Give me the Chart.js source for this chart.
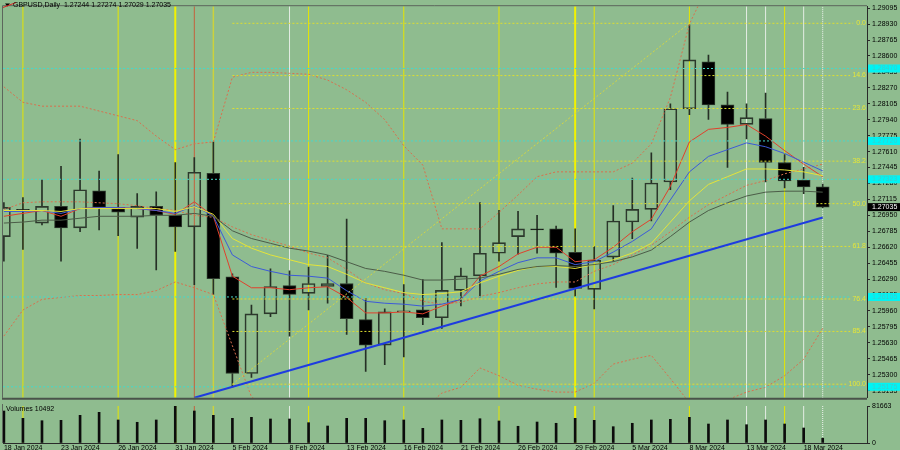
<!DOCTYPE html>
<html>
<head>
<meta charset="utf-8">
<title>GBPUSD Daily</title>
<script src="https://cdn.jsdelivr.net/npm/chart.js"></script>
<style>
  html, body { margin: 0; padding: 0; background: #8fbc8f; }
  #wrap { position: relative; width: 900px; height: 450px; overflow: hidden; background: #8fbc8f; }
  #priceChart { position: absolute; left: 0; top: 0; }
  #volChart { position: absolute; left: 0; top: 398px; }
</style>
</head>
<body>
<div id="wrap">
  <canvas id="priceChart" width="900" height="404"></canvas>
  <canvas id="volChart" width="900" height="52"></canvas>
</div>
<script>
// GBPUSD daily candles, 18 Jan - 19 Mar 2024, MT4 style

const symbolName = 'GBPUSD,Daily';

const barDates = [
  '18 Jan 2024', '19 Jan 2024', '22 Jan 2024', '23 Jan 2024', '24 Jan 2024', '25 Jan 2024', '26 Jan 2024',
  '29 Jan 2024', '30 Jan 2024', '31 Jan 2024', '1 Feb 2024', '2 Feb 2024', '5 Feb 2024', '6 Feb 2024',
  '7 Feb 2024', '8 Feb 2024', '9 Feb 2024', '12 Feb 2024', '13 Feb 2024', '14 Feb 2024', '15 Feb 2024',
  '16 Feb 2024', '19 Feb 2024', '20 Feb 2024', '21 Feb 2024', '22 Feb 2024', '23 Feb 2024', '26 Feb 2024',
  '27 Feb 2024', '28 Feb 2024', '29 Feb 2024', '1 Mar 2024', '4 Mar 2024', '5 Mar 2024', '6 Mar 2024',
  '7 Mar 2024', '8 Mar 2024', '11 Mar 2024', '12 Mar 2024', '13 Mar 2024', '14 Mar 2024', '15 Mar 2024',
  '18 Mar 2024', '19 Mar 2024'
];

const open = [1.26729, 1.27012, 1.26870, 1.27043, 1.26820, 1.27204, 1.27033, 1.26931, 1.27043, 1.26952, 1.26830,
  1.27386, 1.26314, 1.25313, 1.25930, 1.26223, 1.26142, 1.26213, 1.26244, 1.25870, 1.25607, 1.25950, 1.25971,
  1.25890, 1.26173, 1.26324, 1.26557, 1.26729, 1.26810, 1.26810, 1.26567, 1.26183, 1.26517, 1.26881, 1.27012,
  1.27295, 1.28053, 1.28539, 1.28094, 1.27892, 1.27952, 1.27497, 1.27316, 1.27244];
const high = [1.27083, 1.27134, 1.27316, 1.27457, 1.27740, 1.27407, 1.27578, 1.27174, 1.27194, 1.27497, 1.27548,
  1.27710, 1.26345, 1.26021, 1.26395, 1.26375, 1.26415, 1.26537, 1.26911, 1.26092, 1.25981, 1.26233, 1.26284,
  1.26668, 1.26405, 1.27083, 1.27002, 1.26992, 1.26951, 1.26840, 1.26810, 1.26628, 1.27052, 1.27335, 1.27598,
  1.28104, 1.28923, 1.28609, 1.28225, 1.28104, 1.28215, 1.27578, 1.27447, 1.27274];
const low = [1.26476, 1.26597, 1.26851, 1.26476, 1.26780, 1.26800, 1.26739, 1.26608, 1.26385, 1.26577, 1.26233,
  1.26132, 1.25172, 1.25273, 1.25900, 1.25698, 1.25971, 1.26041, 1.25718, 1.25334, 1.25404, 1.25485, 1.25819,
  1.25779, 1.26011, 1.26102, 1.26476, 1.26547, 1.26557, 1.26203, 1.26112, 1.25981, 1.26476, 1.26709, 1.26891,
  1.27215, 1.27993, 1.27942, 1.27447, 1.27740, 1.27295, 1.27234, 1.27174, 1.27029];
const close = [1.27033, 1.27002, 1.27043, 1.26820, 1.27215, 1.27033, 1.26982, 1.27043, 1.26952, 1.26830, 1.27396,
  1.26294, 1.25313, 1.25930, 1.26213, 1.26132, 1.26244, 1.26244, 1.25880, 1.25607, 1.25950, 1.25961, 1.25890,
  1.26173, 1.26324, 1.26557, 1.26668, 1.26810, 1.26800, 1.26557, 1.26193, 1.26486, 1.26891, 1.27012, 1.27285,
  1.28053, 1.28559, 1.28094, 1.27892, 1.27962, 1.27497, 1.27305, 1.27244, 1.27035];

// moving averages as drawn on the chart
const maRed = [1.2694, 1.2697, 1.2700, 1.2694, 1.2702, 1.2703, 1.2703, 1.2702, 1.2700, 1.2696, 1.2709, 1.2694,
  1.2632, 1.2620, 1.2620, 1.2618, 1.2620, 1.2621, 1.2610, 1.2594, 1.2594, 1.2595, 1.2593, 1.2601, 1.2608, 1.2632,
  1.2642, 1.2655, 1.2662, 1.2662, 1.2647, 1.2649, 1.2662, 1.2678, 1.2691, 1.2725, 1.2771, 1.2784, 1.2786, 1.2789,
  1.2777, 1.2762, 1.2748, 1.2735];
const maBlue = [1.2699, 1.2699, 1.2700, 1.2697, 1.2702, 1.2703, 1.2703, 1.2702, 1.2700, 1.2697, 1.2705, 1.2694,
  1.2654, 1.2642, 1.2637, 1.2633, 1.2632, 1.2630, 1.2617, 1.2606, 1.2604, 1.2603, 1.2601, 1.2603, 1.2608, 1.2627,
  1.2637, 1.2646, 1.2651, 1.2651, 1.2644, 1.2647, 1.2657, 1.2668, 1.2681, 1.2711, 1.2740, 1.2756, 1.2763, 1.2770,
  1.2766, 1.2759, 1.2750, 1.2741];
const maYellow = [1.2700, 1.2700, 1.2700, 1.2699, 1.2702, 1.2702, 1.2702, 1.2702, 1.2702, 1.2699, 1.2704, 1.2696,
  1.2671, 1.2661, 1.2654, 1.2649, 1.2644, 1.2642, 1.2634, 1.2625, 1.2620, 1.2615, 1.2613, 1.2614, 1.2616, 1.2625,
  1.2632, 1.2638, 1.2642, 1.2642, 1.2640, 1.2644, 1.2649, 1.2656, 1.2666, 1.2688, 1.2710, 1.2727, 1.2735, 1.2743,
  1.2743, 1.2742, 1.2740, 1.2736];
const maGray = [1.2687, 1.2688, 1.2690, 1.2690, 1.2692, 1.2694, 1.2694, 1.2694, 1.2695, 1.2695, 1.2697, 1.2694,
  1.2679, 1.2671, 1.2666, 1.2661, 1.2658, 1.2654, 1.2647, 1.2640, 1.2637, 1.2633, 1.2628, 1.2628, 1.2629, 1.2630,
  1.2634, 1.2639, 1.2642, 1.2643, 1.2642, 1.2644, 1.2647, 1.2652, 1.2659, 1.2673, 1.2688, 1.2700, 1.2708, 1.2715,
  1.2719, 1.2720, 1.2720, 1.2719];

// bands (dotted)
const bbUpper = [1.2828, 1.2812, 1.2808, 1.2808, 1.2808, 1.2803, 1.2798, 1.2793, 1.2777, 1.2763, 1.2769, 1.2771,
  1.2838, 1.2843, 1.2843, 1.2842, 1.2841, 1.2835, 1.2825, 1.2812, 1.2794, 1.2767, 1.2747, 1.2681, 1.2681, 1.2681,
  1.2698, 1.2716, 1.2735, 1.2740, 1.2740, 1.2740, 1.2740, 1.2749, 1.2769, 1.2817, 1.2893, 1.2934, 1.2939, 1.2944,
  1.2949, 1.2948, 1.2940, 1.2919];
const bbMiddle = [1.2701, 1.2708, 1.2709, 1.2709, 1.2709, 1.2708, 1.2707, 1.2705, 1.2702, 1.2700, 1.2695, 1.2693,
  1.2683, 1.2675, 1.2669, 1.2663, 1.2656, 1.2651, 1.2639, 1.2625, 1.2618, 1.2614, 1.2606, 1.2603, 1.2605, 1.2611,
  1.2615, 1.2620, 1.2624, 1.2626, 1.2626, 1.2637, 1.2644, 1.2654, 1.2664, 1.2678, 1.2693, 1.2706, 1.2716, 1.2726,
  1.2731, 1.2738, 1.2743, 1.2748];
const bbLower = [1.2570, 1.2597, 1.2608, 1.2610, 1.2612, 1.2612, 1.2613, 1.2613, 1.2617, 1.2626, 1.2620, 1.2613,
  1.2560, 1.2507, 1.2495, 1.2484, 1.2471, 1.2467, 1.2454, 1.2438, 1.2443, 1.2479, 1.2494, 1.2511, 1.2517, 1.2537,
  1.2529, 1.2519, 1.2515, 1.2512, 1.2512, 1.2521, 1.2541, 1.2546, 1.2550, 1.2526, 1.2501, 1.2489, 1.2504, 1.2512,
  1.2517, 1.2529, 1.2546, 1.2578];

const volumes = [70600, 54500, 49200, 50100, 61100, 67700, 50800, 45700, 50800, 81663, 70600, 61100, 54500, 56700,
  53000, 53000, 44800, 37500, 54500, 54500, 49200, 50800, 32400, 50800, 50100, 53600, 48600, 36900, 46300, 43500,
  54500, 50100, 36000, 43500, 50800, 52300, 56700, 41900, 50800, 40400, 50800, 41900, 33100, 10492];

const priceTicks = [1.29095, 1.28930, 1.28765, 1.28600, 1.28435, 1.28270, 1.28105, 1.27940, 1.27775, 1.27610,
  1.27445, 1.27280, 1.27115, 1.26950, 1.26785, 1.26620, 1.26455, 1.26290, 1.26125, 1.25960, 1.25795, 1.25630,
  1.25465, 1.25300, 1.25135];
const volTicks = [0, 81663];
const dateTickIdx = [0, 3, 6, 9, 12, 15, 18, 21, 24, 27, 30, 33, 36, 39, 42];

// fibonacci retracement Feb 5 low -> Mar 8 high
const fibLabels = ['0.0', '14.6', '23.6', '38.2', '50.0', '61.8', '76.4', '85.4', '100.0'];
const fibPrices = [1.28938, 1.28397, 1.28056, 1.27511, 1.27071, 1.26628, 1.26084, 1.25748, 1.25202];
const fibBars = [12, 36];

const cyanLevels = [1.28470, 1.27720, 1.27323, 1.26105, 1.25175];

const trendBars = [10, 43];
const trendPrices = [1.25061, 1.26928];

const markerBars = [1, 6, 9, 10, 11, 15, 16, 21, 26, 30, 31, 36, 39, 40, 41, 42, 43];
const markerKinds = ['y', 'y', 'Y', 'r', 'o', 'w', 'y', 'y', 'y', 'Y', 'y', 'y', 'w', 'w', 'y', 'w', 'd'];

// ---- styling / layout ----
const BG = '#8fbc8f';
const FONT = '"Liberation Sans", Arial, sans-serif';
const PRICE_MIN = 1.25061, PRICE_MAX = 1.29115;
const X_MIN = -0.047, X_MAX = 45.326;
const markerStyle = {
  y: { color: '#e6e600', width: 1 },
  Y: { color: '#f2f200', width: 2 },
  r: { color: '#c4603e', width: 1 },
  o: { color: '#cdd23c', width: 1.5 },
  w: { color: '#e4ece4', width: 1 },
  d: { color: '#f0f4f0', width: 1, dash: [1, 1] }
};

Chart.defaults.font.family = FONT;
Chart.defaults.font.size = 7;
Chart.defaults.color = '#000';
Chart.defaults.animation = false;

const last = close.length - 1;
const idx = barDates.map((_, i) => i);
const series = arr => arr.map((v, i) => ({ x: i, y: v }));

function lineDs(data, color, width, dash, order) {
  return { type: 'line', data, borderColor: color, borderWidth: width, borderDash: dash || [],
    pointRadius: 0, tension: 0, fill: false, order };
}

const priceDatasets = [];
markerBars.forEach((k, i) => {
  const s = markerStyle[markerKinds[i]];
  priceDatasets.push(lineDs([{ x: k, y: PRICE_MIN }, { x: k, y: PRICE_MAX }], s.color, s.width, s.dash, 30));
});
// wicks
priceDatasets.push({ type: 'bar', data: idx.map(i => ({ x: i, y: [Math.max(open[i], close[i]), high[i]] })),
  backgroundColor: '#263026', borderWidth: 0, barThickness: 1, grouped: false, order: 20 });
priceDatasets.push({ type: 'bar', data: idx.map(i => ({ x: i, y: [low[i], Math.min(open[i], close[i])] })),
  backgroundColor: '#263026', borderWidth: 0, barThickness: 1, grouped: false, order: 20 });
// bodies
priceDatasets.push({ type: 'bar', data: idx.map(i => ({ x: i, y: [open[i], close[i]] })),
  backgroundColor: c => close[c.dataIndex] >= open[c.dataIndex] ? 'rgba(0,0,0,0)' : '#000',
  borderColor: '#2c382c', borderWidth: 1, borderSkipped: false, barThickness: 13, grouped: false, order: 19 });
// bands
priceDatasets.push(lineDs(series(bbUpper), '#d8704e', 1, [2, 2], 12));
priceDatasets.push(lineDs(series(bbMiddle), '#d8704e', 1, [2, 2], 12));
priceDatasets.push(lineDs(series(bbLower), '#d8704e', 1, [2, 2], 12));
// averages
priceDatasets.push(lineDs(series(maGray), '#4c5c48', 1, null, 11));
priceDatasets.push(lineDs(series(maYellow), '#e4e43a', 1, null, 11));
priceDatasets.push(lineDs(series(maBlue), '#3c5ad8', 1, null, 11));
priceDatasets.push(lineDs(series(maRed), '#e0402c', 1, null, 11));
// horizontal levels
cyanLevels.forEach(p => priceDatasets.push(lineDs([{ x: X_MIN, y: p }, { x: X_MAX, y: p }], '#48d8c8', 1, [2, 2], 8)));
fibPrices.forEach(p => priceDatasets.push(lineDs([{ x: fibBars[0], y: p }, { x: 44.6, y: p }], '#dede30', 1, [2, 2], 7)));
priceDatasets.push(lineDs([{ x: fibBars[0], y: fibPrices[8] }, { x: fibBars[1], y: fibPrices[0] }], '#d6d640', 1, [2, 2], 7));
// trend line
priceDatasets.push(lineDs([{ x: trendBars[0], y: trendPrices[0] }, { x: trendBars[1], y: trendPrices[1] }], '#1e3ce0', 2, null, 5));

const priceDecor = {
  id: 'priceDecor',
  afterDatasetsDraw(chart) {
    const { ctx, chartArea: a, scales: { y } } = chart;
    ctx.save();
    ctx.font = '7px ' + FONT;
    ctx.textAlign = 'right';
    ctx.textBaseline = 'middle';
    fibLabels.forEach((t, i) => {
      const py = y.getPixelForValue(fibPrices[i]);
      const w = ctx.measureText(t).width;
      ctx.fillStyle = BG;
      ctx.fillRect(a.right - w - 3, py - 3, w + 3, 6);
      ctx.fillStyle = '#e6e638';
      ctx.fillText(t, a.right - 1, py);
    });
    ctx.restore();
  },
  afterDraw(chart) {
    const { ctx, chartArea: a, scales: { y } } = chart;
    ctx.save();
    // frame
    ctx.strokeStyle = '#5c665c';
    ctx.lineWidth = 1;
    ctx.beginPath();
    ctx.moveTo(a.left - 0.5, a.bottom); ctx.lineTo(a.left - 0.5, a.top - 0.5); ctx.lineTo(a.right, a.top - 0.5);
    ctx.stroke();
    ctx.strokeStyle = '#4a524a';
    ctx.lineWidth = 2;
    ctx.beginPath(); ctx.moveTo(a.left - 1, a.bottom + 1); ctx.lineTo(a.right, a.bottom + 1); ctx.stroke();
    // axis flags
    ctx.font = '7px ' + FONT;
    ctx.textAlign = 'left';
    ctx.textBaseline = 'middle';
    cyanLevels.forEach(p => {
      const py = y.getPixelForValue(p);
      ctx.fillStyle = '#00f4f4';
      ctx.fillRect(a.right + 1, py - 4, 33, 8);
      ctx.fillStyle = '#3ccccc';
      ctx.fillText(p.toFixed(5), a.right + 5, py);
    });
    const pc = y.getPixelForValue(close[last]);
    ctx.fillStyle = '#000';
    ctx.fillRect(a.right + 1, pc - 4, 33, 8);
    ctx.fillStyle = '#fff';
    ctx.fillText(close[last].toFixed(5), a.right + 5, pc);
    // header
    ctx.fillStyle = '#000';
    ctx.beginPath(); ctx.moveTo(5, 3.5); ctx.lineTo(10, 3.5); ctx.lineTo(7.5, 6.5); ctx.closePath(); ctx.fill();
    ctx.strokeStyle = '#e02020'; ctx.lineWidth = 1;
    ctx.beginPath(); ctx.moveTo(3, 7.5); ctx.lineTo(16, 2.5); ctx.stroke();
    const hdr = symbolName + '  ' + [open[last], high[last], low[last], close[last]].map(v => v.toFixed(5)).join(' ');
    ctx.fillStyle = '#000';
    ctx.fillText(hdr, 13, 5.5);
    ctx.restore();
  }
};

new Chart(document.getElementById('priceChart'), {
  type: 'bar',
  data: { datasets: priceDatasets },
  options: {
    responsive: false,
    devicePixelRatio: 1,
    events: [],
    layout: { padding: { left: 3, top: 2, right: 0, bottom: 1 } },
    plugins: { legend: { display: false }, tooltip: { enabled: false } },
    scales: {
      x: { type: 'linear', min: X_MIN, max: X_MAX, offset: false, display: false },
      y: {
        position: 'right', min: PRICE_MIN, max: PRICE_MAX,
        afterBuildTicks: s => { s.ticks = priceTicks.map(v => ({ value: v })); },
        afterFit: s => { s.width = 33; },
        ticks: { autoSkip: false, padding: 2, color: '#000', callback: v => Number(v).toFixed(5) },
        grid: { drawOnChartArea: false, tickLength: 3, color: '#2a2a2a' },
        border: { color: '#2a2a2a' }
      }
    }
  },
  plugins: [priceDecor]
});

// ---- volume panel ----
const volDatasets = [];
markerBars.forEach((k, i) => {
  const s = markerStyle[markerKinds[i]];
  volDatasets.push(lineDs([{ x: k, y: 0 }, { x: k, y: volTicks[1] }], s.color, s.width, s.dash, 30));
});
volDatasets.push({ type: 'bar', data: idx.map(i => ({ x: i, y: volumes[i] })), backgroundColor: '#0c0c0c',
  borderWidth: 0, barThickness: 2, grouped: false, order: 10 });

const volDecor = {
  id: 'volDecor',
  afterDraw(chart) {
    const { ctx, chartArea: a } = chart;
    ctx.save();
    ctx.strokeStyle = '#5c665c';
    ctx.lineWidth = 1;
    ctx.beginPath(); ctx.moveTo(a.left - 0.5, a.top - 2); ctx.lineTo(a.left - 0.5, a.bottom); ctx.stroke();
    ctx.font = '7px ' + FONT;
    ctx.textAlign = 'left';
    ctx.textBaseline = 'middle';
    ctx.fillStyle = '#000';
    ctx.fillText('Volumes ' + volumes[last], a.left + 3, a.top + 3);
    ctx.restore();
  }
};

new Chart(document.getElementById('volChart'), {
  type: 'bar',
  data: { datasets: volDatasets },
  options: {
    responsive: false,
    devicePixelRatio: 1,
    events: [],
    layout: { padding: { left: 3, top: 8, right: 0, bottom: 0 } },
    plugins: { legend: { display: false }, tooltip: { enabled: false } },
    scales: {
      x: {
        type: 'linear', min: X_MIN, max: X_MAX, offset: false, position: 'bottom',
        afterBuildTicks: s => { s.ticks = dateTickIdx.map(v => ({ value: v })); },
        afterFit: s => { s.height = 7; },
        ticks: { autoSkip: false, maxRotation: 0, align: 'start', padding: 1, color: '#000',
          callback: v => barDates[v] },
        grid: { drawOnChartArea: false, drawTicks: false },
        border: { color: '#2a2a2a' }
      },
      y: {
        position: 'right', min: 0, max: volTicks[1],
        afterBuildTicks: s => { s.ticks = volTicks.map(v => ({ value: v })); },
        afterFit: s => { s.width = 33; },
        ticks: { autoSkip: false, padding: 2, color: '#000', callback: v => String(v) },
        grid: { drawOnChartArea: false, tickLength: 3, color: '#2a2a2a' },
        border: { color: '#2a2a2a' }
      }
    }
  },
  plugins: [volDecor]
});
</script>
</body>
</html>
